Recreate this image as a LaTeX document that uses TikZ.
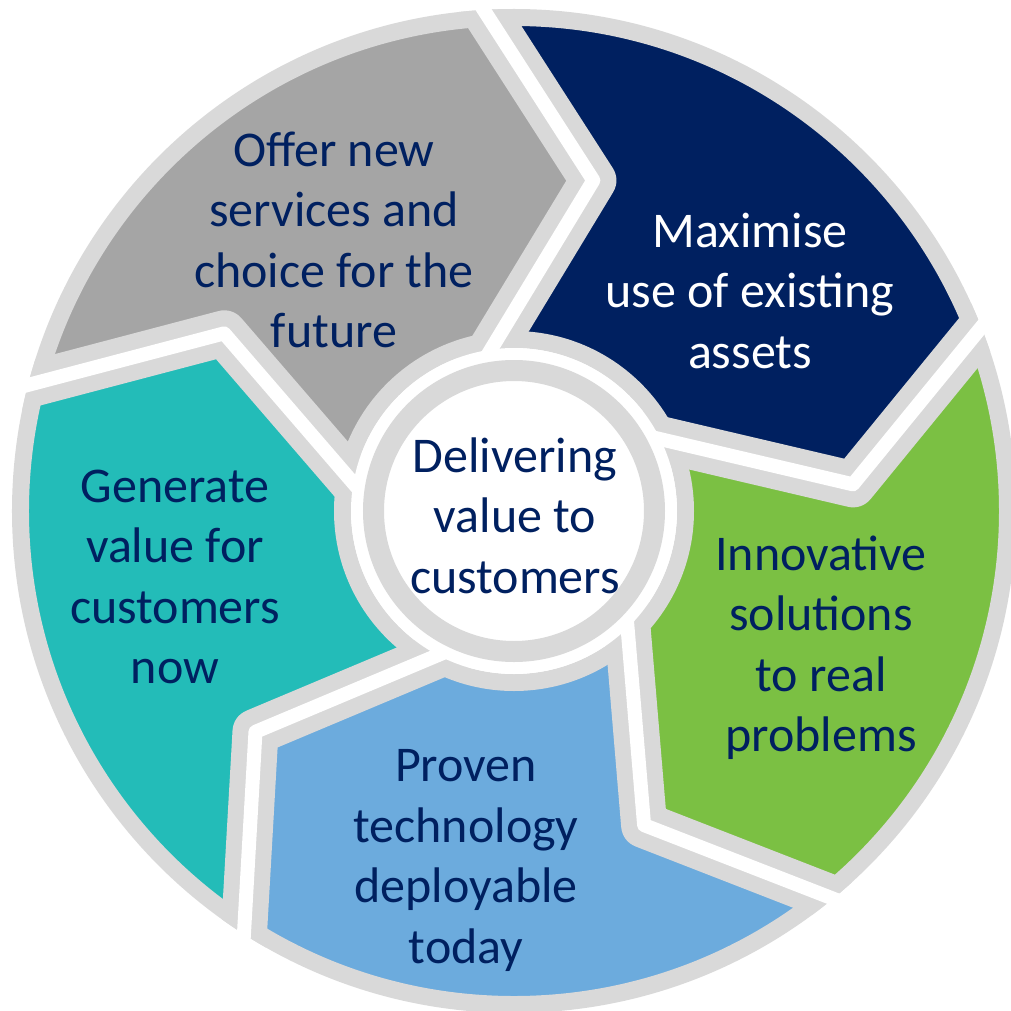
\documentclass[tikz,border=0pt]{standalone}
\usepackage{fontspec}
\setmainfont{Carlito}
\usetikzlibrary{calc}
\definecolor{segGray}{HTML}{A5A5A5}
\definecolor{segNavy}{HTML}{002060}
\definecolor{segGreen}{HTML}{7BC043}
\definecolor{segBlue}{HTML}{6CABDD}
\definecolor{segTeal}{HTML}{23BCB8}
\definecolor{rimGrey}{HTML}{D9D9D9}
\definecolor{txtNavy}{HTML}{002060}
\begin{document}
\begin{tikzpicture}[x=1pt,y=1pt,
  lbl/.style={font=\fontsize{50}{60.5}\selectfont, align=center, text=txtNavy, inner sep=0pt},
  rim/.style={draw=rimGrey, line width=17pt},
  seam/.style={draw=rimGrey, line width=46pt, line join=round},
  gapline/.style={draw=white, line width=14pt, line join=round}]
\useasboundingbox (-514,-499) rectangle (497,511);
\foreach \k/\t in {0/93,1/21,2/-51,3/-123,4/165} {
  \coordinate (O\k) at (\t:495);
  \coordinate (T\k) at (\t-16.5:340);
  \coordinate (I\k) at (\t+3:171);
  \coordinate (Oe\k) at ($(T\k)!1.15!(O\k)$);
  \coordinate (Ie\k) at ($(T\k)!1.2!(I\k)$);
}
% segment fills
\fill[segGray]  (O4) arc[start angle=165, end angle=93, radius=495] -- (T0) -- (I0) arc[start angle=96, end angle=168, radius=171] -- (T4) -- cycle;
\fill[segNavy]  (O0) arc[start angle=93, end angle=21, radius=495] -- (T1) -- (I1) arc[start angle=24, end angle=96, radius=171] -- (T0) -- cycle;
\fill[segGreen] (O1) arc[start angle=21, end angle=-51, radius=495] -- (T2) -- (I2) arc[start angle=-48, end angle=24, radius=171] -- (T1) -- cycle;
\fill[segBlue]  (O2) arc[start angle=-51, end angle=-123, radius=495] -- (T3) -- (I3) arc[start angle=-120, end angle=-48, radius=171] -- (T2) -- cycle;
\fill[segTeal]  (O3) arc[start angle=-123, end angle=-195, radius=495] -- (T4) -- (I4) arc[start angle=-192, end angle=-120, radius=171] -- (T3) -- cycle;
% rims
\draw[rim] (0,0) circle[radius=493.5];
\draw[rim] (0,0) circle[radius=171.5];
\begin{scope}
  \clip (0,0) circle[radius=502];
  \foreach \k in {0,...,4} \draw[seam] (Oe\k) -- (T\k) -- (Ie\k);
\end{scope}
\foreach \k in {0,...,4} \draw[gapline] (Oe\k) -- (T\k) -- (Ie\k);
\fill[white] (0,0) circle[radius=163];
\node[circle, draw=rimGrey, line width=21pt, fill=white, minimum size=281pt, inner sep=0pt] (hub) at (0,0) {};
% labels
\node[lbl] (offer) at (-180,271) {Offer new\\services and\\choice for the\\future};
\node[lbl, text=white] (maxim) at (236,220.5) {Maximise\\use of existing\\assets};
\node[lbl] (innov) at (307,-136.5) {Innovative\\solutions\\to real\\problems};
\node[lbl] (proven) at (-48,-349.5) {Proven\\technology\\deployable\\today};
\node[lbl] (gener) at (-339,-66) {Generate\\value for\\customers\\now};
\node[lbl] (hubtext) at (1,-4.5) {Delivering\\value to\\customers};
\end{tikzpicture}
\end{document}
